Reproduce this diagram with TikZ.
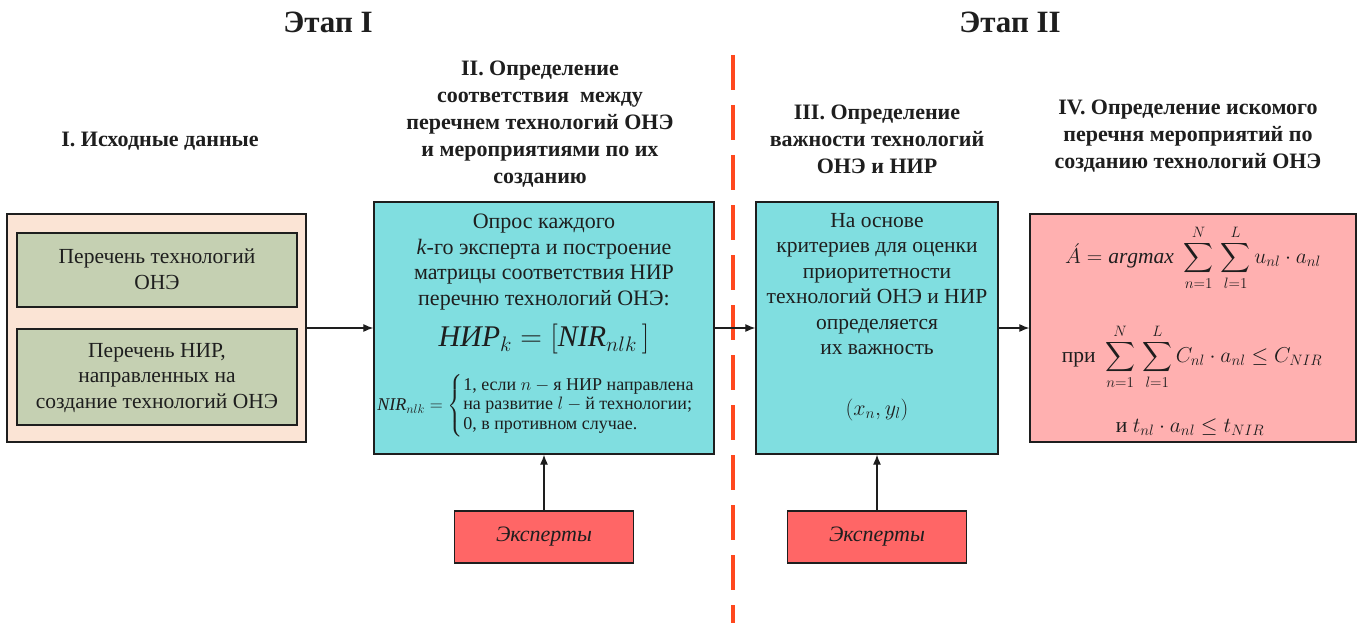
\documentclass[tikz,border=0pt]{standalone}
\usepackage{fix-cm}
\usepackage{amsmath}
\usepackage{fontspec}
\setmainfont{Liberation Serif}
\usetikzlibrary{arrows.meta}
\definecolor{peach}{RGB}{251,228,213}
\definecolor{sage}{RGB}{197,208,178}
\definecolor{cyanbox}{RGB}{128,222,224}
\definecolor{pinkbox}{RGB}{255,176,176}
\definecolor{redbox}{RGB}{255,102,102}
\definecolor{dashred}{RGB}{255,72,30}
\definecolor{ink}{RGB}{30,30,30}
\begin{document}
\begin{tikzpicture}[x=1pt,y=-1pt,
  box/.style={draw=ink, line width=1.3pt, inner sep=0pt},
  conn/.style={-{Latex[length=10pt,width=8pt]}, line width=1.2pt, draw=ink},
  ttl/.style={font=\fontsize{22}{27}\selectfont\bfseries, align=center, text=ink},
  big/.style={font=\fontsize{31}{34}\selectfont\bfseries, text=ink},
  body/.style={font=\fontsize{21.5}{25.5}\selectfont, align=center, text=ink},
  math/.style={text=ink}]
\useasboundingbox (0,0) rectangle (1363,623);

% stage titles
\node[big] (st1) at (328,22) {Этап I};
\node[big] (st2) at (1010,22) {Этап II};

% dashed separator
\coordinate (dtop) at (733,55);
\coordinate (dbot) at (733,623);
\draw[dashred, line width=3.5pt, dash pattern=on 35pt off 15pt] (dtop) -- (dbot);

% section titles
\node[ttl] (t1) at (160,141) {I. Исходные данные};
\node[ttl] (t2) at (540,124) {II. Определение\\соответствия \ между\\перечнем технологий ОНЭ\\и мероприятиями по их\\созданию};
\node[ttl] (t3) at (877,139) {III. Определение\\важности технологий\\ОНЭ и НИР};
\node[ttl] (t4) at (1188,136) {IV. Определение искомого\\перечня мероприятий по\\созданию технологий ОНЭ};

% boxes
\node[box, fill=peach, minimum width=299pt, minimum height=228pt] (src) at (156.5,328) {};
\node[box, fill=sage, minimum width=280pt, minimum height=74pt] (in1) at (157,270) {};
\node[box, fill=sage, minimum width=280pt, minimum height=96pt] (in2) at (157,377) {};
\node[body] (in1t) at (157,269) {Перечень технологий\\ОНЭ};
\node[body] (in2t) at (157,378) {Перечень НИР,\\направленных на\\создание технологий ОНЭ};

\node[box, fill=cyanbox, minimum width=340pt, minimum height=252pt] (b2) at (544,328) {};
\node[body, font=\fontsize{22}{25.5}\selectfont] (b2t) at (544,262) {Опрос каждого\\\textit{k}-го эксперта и построение\\матрицы соответствия НИР\\перечню технологий ОНЭ:};
\node[math, font=\fontsize{30}{34}\selectfont] (b2f) at (544,339) {$\text{\itshape НИР}_k=\left[\text{\itshape NIR}_{nlk}\,\right]$};
\node[math, font=\fontsize{18}{16.5}\selectfont] (b2c) at (545,406) {$\mathit{NIR}_{nlk}=\begin{cases}\text{1, если } n-\text{я НИР направлена}\\ \text{на развитие } l-\text{й технологии;}\\ \text{0, в противном случае.}\end{cases}$};

\node[box, fill=cyanbox, minimum width=242pt, minimum height=252pt] (b3) at (877,328) {};
\node[body] (b3t) at (877,284) {На основе\\критериев для оценки\\приоритетности\\технологий ОНЭ и НИР\\определяется\\их важность};
\node[math, font=\fontsize{22}{26}\selectfont] (b3f) at (877,410) {$(x_n,y_l)$};

\node[box, fill=pinkbox, minimum width=326pt, minimum height=228pt] (b4) at (1193,328) {};
\node[math, font=\fontsize{21.5}{24}\selectfont] (b4f1) at (1193,258) {$\displaystyle \acute{A}=\mathit{argmax}\;\sum_{n=1}^{N}\,\sum_{l=1}^{L}u_{nl}\cdot a_{nl}$};
\node[math, font=\fontsize{21.5}{24}\selectfont] (b4f2) at (1192,357) {$\displaystyle \text{при}\;\sum_{n=1}^{N}\,\sum_{l=1}^{L}C_{nl}\cdot a_{nl}\le C_{NIR}$};
\node[math, font=\fontsize{21.5}{24}\selectfont] (b4f3) at (1190,427) {и $t_{nl}\cdot a_{nl}\le t_{NIR}$};

\node[box, fill=redbox, minimum width=179pt, minimum height=52pt, font=\fontsize{22}{25}\selectfont\itshape, text=ink] (ex1) at (544,537) {Эксперты};
\node[box, fill=redbox, minimum width=179pt, minimum height=52pt, font=\fontsize{22}{25}\selectfont\itshape, text=ink] (ex2) at (877,537) {Эксперты};

% connectors
\draw[conn] (src.east) -- (b2.west);
\draw[conn] (b2.east) -- (b3.west);
\draw[conn] (b3.east) -- (b4.west);
\draw[conn] (ex1.north) -- (b2.south);
\draw[conn] (ex2.north) -- (b3.south);
\end{tikzpicture}
\end{document}
